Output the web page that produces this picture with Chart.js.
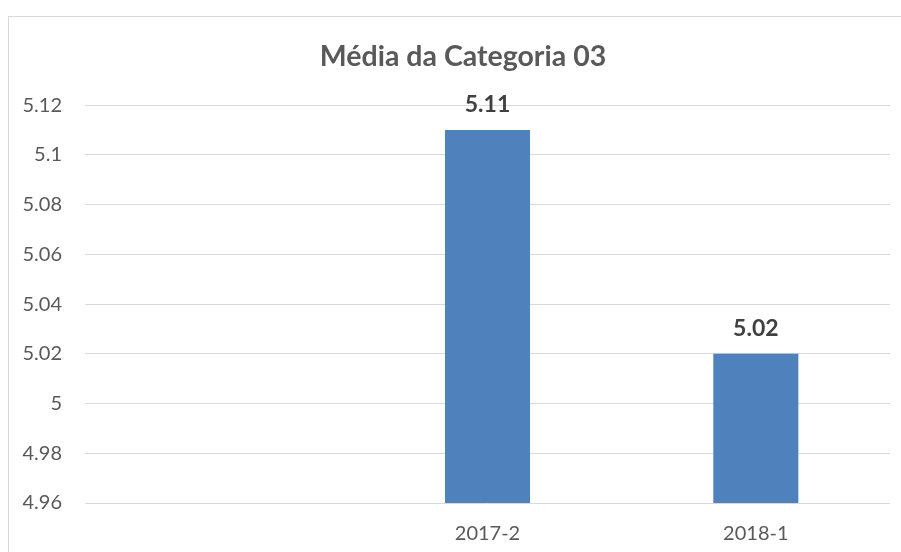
<!DOCTYPE html>
<html>
<head>
<meta charset="utf-8">
<script src="https://cdn.jsdelivr.net/npm/chart.js@4"></script>
<style>
  html, body { margin: 0; padding: 0; background: #fff; overflow: hidden; width: 901px; height: 552px; }
  #frame { position: absolute; left: 8px; top: 16px; width: 1000px; height: 1000px; border: 1px solid #d9d9d9; }
  #wrap { position: absolute; left: 8px; top: 16px; width: 910px; height: 536px; }
</style>
</head>
<body>
<div id="frame"></div>
<div id="wrap"><canvas id="chart" width="910" height="536"></canvas></div>
<script>
const categories = ['', '2017-2', '2018-1'];
const medias = [null, 5.11, 5.02];
const yTicks = [4.96, 4.98, 5, 5.02, 5.04, 5.06, 5.08, 5.1, 5.12];

const ctx = document.getElementById('chart').getContext('2d');

const fmt = v => String(Number(v.toFixed(2)));

// labels above the bars + y labels (drawn here so they aren't clipped by the padding)
const labelsPlugin = {
  id: 'labelsPlugin',
  afterDatasetsDraw(chart) {
    const c = chart.ctx;
    const meta = chart.getDatasetMeta(0);
    c.save();
    c.font = 'bold 23px Lato';
    c.fillStyle = '#404040';
    c.textAlign = 'center';
    c.textBaseline = 'middle';
    meta.data.forEach(function(bar, i) {
      if (medias[i] == null) return;
      c.fillText(medias[i].toFixed(2), bar.x, bar.y - 25);
    });

    const y = chart.scales.y;
    c.font = '20px Lato';
    c.fillStyle = '#595959';
    c.textAlign = 'right';
    y.ticks.forEach(function(t) {
      c.fillText(fmt(t.value), chart.chartArea.left - 23, y.getPixelForValue(t.value));
    });
    c.restore();
  }
};

new Chart(ctx, {
  type: 'bar',
  data: {
    labels: categories,
    datasets: [{
      label: 'Média',
      data: medias,
      backgroundColor: '#4f81bd',
      categoryPercentage: 1,
      barPercentage: 0.317
    }]
  },
  options: {
    responsive: false,
    animation: false,
    layout: { padding: { top: 0, right: 28, left: 28, bottom: 0 } },
    plugins: {
      legend: { display: false },
      tooltip: { enabled: false },
      title: {
        display: true,
        text: 'Média da Categoria 03',
        color: '#595959',
        font: { family: 'Lato', size: 28.5, weight: 'bold' },
        padding: { top: 24, bottom: 31 }
      }
    },
    scales: {
      x: {
        grid: { display: false },
        border: { display: false },
        ticks: { color: '#595959', font: { family: 'Lato', size: 20 }, padding: 11 },
        afterFit(scale) { scale.height = 49; }
      },
      y: {
        min: 4.96,
        max: 5.12,
        afterBuildTicks(scale) { scale.ticks = yTicks.map(v => ({ value: v })); },
        grid: { color: '#d9d9d9', drawTicks: false },
        border: { display: false },
        ticks: { display: false },
        afterFit(scale) { scale.width = 49; }
      }
    }
  },
  plugins: [labelsPlugin]
});
</script>
</body>
</html>
